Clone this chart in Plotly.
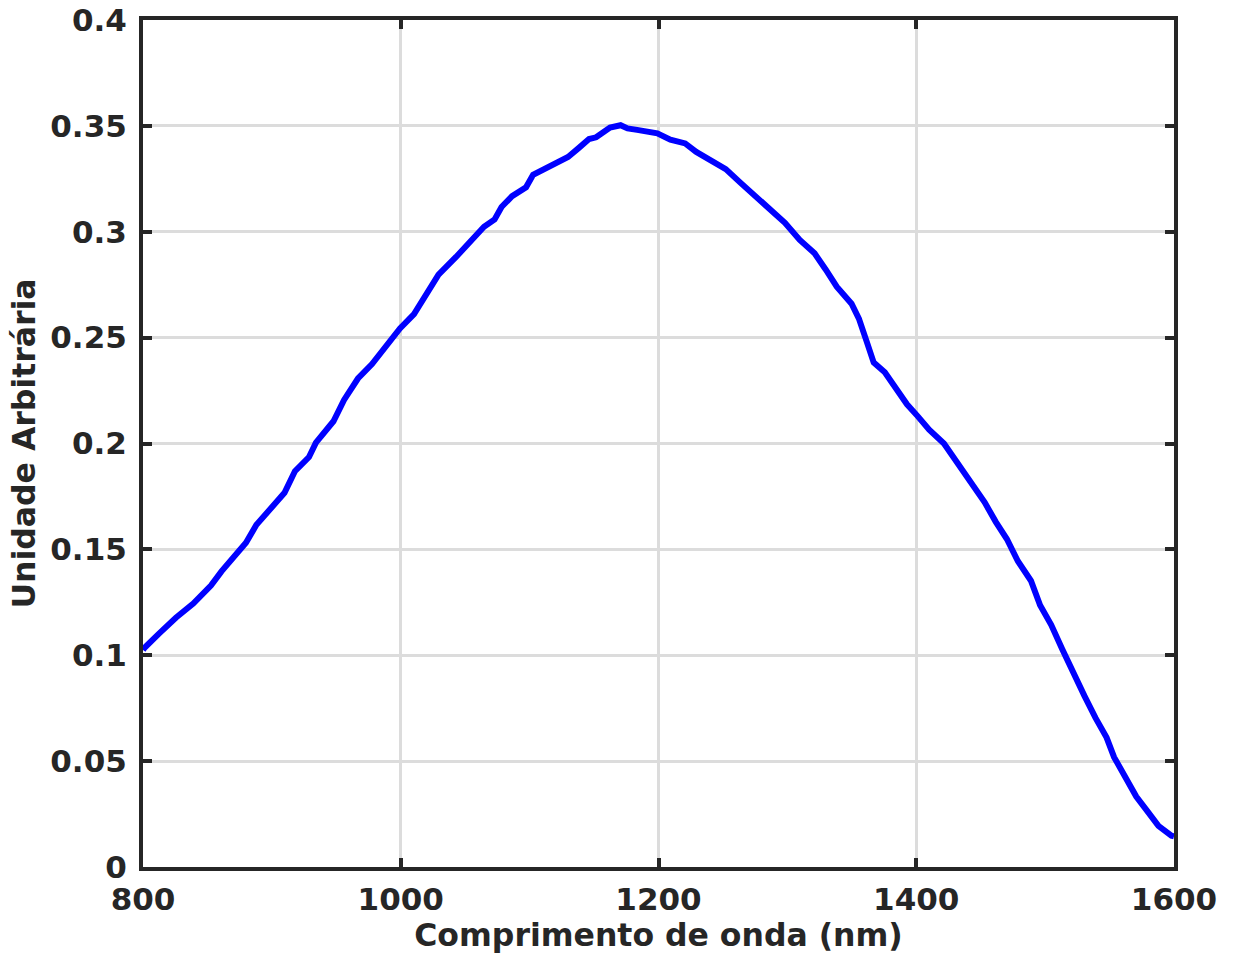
import plotly.graph_objects as go

wavelength_nm = [800, 801, 812, 825.5, 839, 852.7, 860.9, 871.7, 879.9, 888, 898.9, 909.8, 917.9, 928.8,
                 934.2, 947.8, 956, 966.8, 977.7, 988.6, 999.4, 1010.3, 1021.2, 1029.3, 1042.9, 1053.8,
                 1064.6, 1072.8, 1078.2, 1086.4, 1097.2, 1102.7, 1116.3, 1129.8, 1138, 1146.1, 1151.6,
                 1162.4, 1170.6, 1176, 1183.4, 1189.6, 1199.1, 1209.2, 1220.7, 1229.3, 1240.7, 1252.2,
                 1263.7, 1275.2, 1286.7, 1298.1, 1309.6, 1321.1, 1329.7, 1338.3, 1349.8, 1355.5, 1361.3,
                 1367.0, 1375.6, 1384.2, 1392.8, 1401.4, 1410.0, 1421.5, 1433.0, 1441.6, 1453.1, 1461.7,
                 1470.3, 1478.9, 1489.0, 1496.1, 1504.7, 1513.3, 1521.9, 1530.5, 1539.1, 1547.7, 1553.5,
                 1562.1, 1570.7, 1579.3, 1587.9, 1598.0, 1600]
intensity = [0.1025, 0.1034, 0.110, 0.1177, 0.1244, 0.1329, 0.1396, 0.1472, 0.1531, 0.1616, 0.1692, 0.1767,
             0.1869, 0.1936, 0.2004, 0.2105, 0.2206, 0.2307, 0.2375, 0.2459, 0.2543, 0.2611, 0.2721, 0.2797,
             0.2881, 0.2957, 0.3024, 0.3058, 0.3117, 0.3168, 0.3210, 0.3269, 0.3311, 0.3353, 0.3395, 0.3438,
             0.3446, 0.3492, 0.3503, 0.3488, 0.3481, 0.3475, 0.3465, 0.3435, 0.3417, 0.3377, 0.3338, 0.3296,
             0.3231, 0.3169, 0.3111, 0.3042, 0.2961, 0.2898, 0.2822, 0.2741, 0.2660, 0.2590, 0.2486, 0.2382,
             0.2336, 0.2266, 0.2185, 0.2127, 0.2065, 0.2000, 0.1896, 0.1815, 0.1722, 0.1630, 0.1549, 0.1444,
             0.1352, 0.1236, 0.1144, 0.1028, 0.0912, 0.0808, 0.0704, 0.0611, 0.0519, 0.0426, 0.0333, 0.0264,
             0.0194, 0.0148, 0.0145]

x_ticks = [800, 1000, 1200, 1400, 1600]
x_ticktext = ["800", "1000", "1200", "1400", "1600"]
y_ticks = [0, 0.05, 0.1, 0.15, 0.2, 0.25, 0.3, 0.35, 0.4]
y_ticktext = ["0", "0.05", "0.1", "0.15", "0.2", "0.25", "0.3", "0.35", "0.4"]

dark = "#262626"
font_family = "DejaVu Sans"

fig = go.Figure()
fig.add_trace(go.Scatter(x=wavelength_nm, y=intensity, mode="lines",
                         line=dict(color="#0000ff", width=6), showlegend=False))

axis_common = dict(
    showline=True, linewidth=4, linecolor=dark, mirror="allticks",
    ticks="inside", ticklen=9, tickwidth=4, tickcolor=dark,
    showgrid=True, gridcolor="#dcdcdc", gridwidth=3, zeroline=False,
    tickfont=dict(family=font_family, size=31, color=dark, weight="bold"),
    automargin=False,
)

fig.update_xaxes(range=[800, 1600], tickvals=x_ticks, ticktext=x_ticktext,
                 title=dict(text="Comprimento de onda (nm)",
                            font=dict(family=font_family, size=31.5, color=dark, weight="bold"),
                            standoff=6),
                 ticklabelstandoff=2, **axis_common)
fig.update_yaxes(range=[0, 0.4], tickvals=y_ticks, ticktext=y_ticktext,
                 title=dict(text="Unidade Arbitrária",
                            font=dict(family=font_family, size=31.5, color=dark, weight="bold"),
                            standoff=6),
                 ticklabelstandoff=6, **axis_common)

fig.update_layout(
    width=1233, height=958,
    margin=dict(l=143, r=59, t=20, b=91),
    plot_bgcolor="white", paper_bgcolor="white",
)

fig.write_html("out.html")
